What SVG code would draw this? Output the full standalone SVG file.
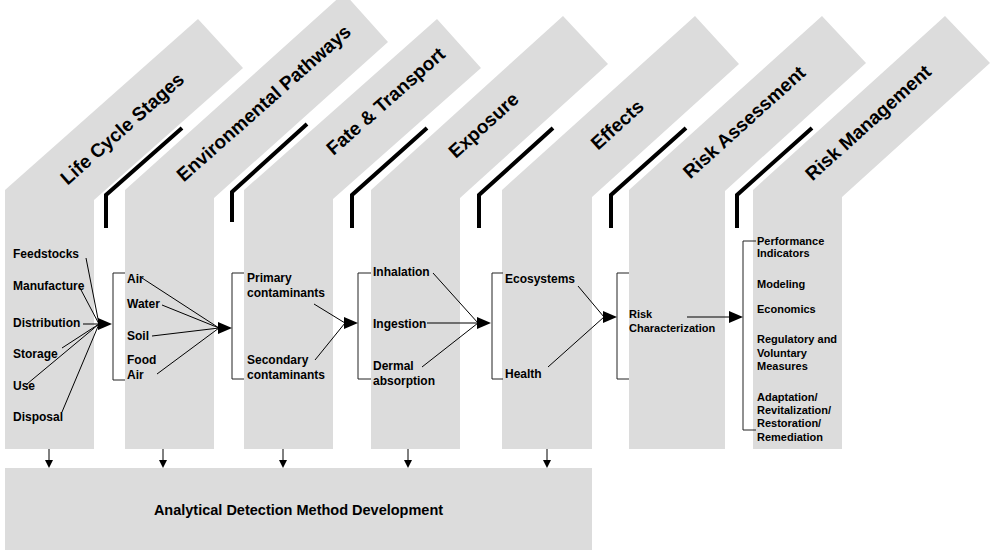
<svg xmlns="http://www.w3.org/2000/svg" xmlns:xlink="http://www.w3.org/1999/xlink" width="997" height="550" viewBox="0 0 997 550">
<style>
.band{fill:#dcdcdc;stroke:none}
.title{font-family:"Liberation Sans",Arial,sans-serif;font-weight:bold;font-size:19px;fill:#000;text-anchor:middle}
.item{font-family:"Liberation Sans",Arial,sans-serif;font-weight:bold;font-size:12px;fill:#000}
.small{font-size:11px}
.thick{fill:none;stroke:#000;stroke-width:4}
.thin{fill:none;stroke:#000;stroke-width:1}
.br{fill:none;stroke:#222;stroke-width:1}
.head{fill:#000}
</style>
<defs>
<path id="ah" d="M-14,-6 L0,0 L-14,6 Z"/>
<path id="sh" d="M-4,-8 L4,-8 L0,0 Z"/>
</defs>
<rect width="997" height="550" fill="#fff"/>
<g id="life-cycle-stages">
<polygon class="band" points="5,449 5,190 198,19 243,68 94,200 94,449"/>
<text class="title" transform="translate(126.5,133.5) rotate(-41.5)">Life Cycle Stages</text>
<text class="item" x="13" y="258">Feedstocks</text>
<text class="item" x="13" y="290">Manufacture</text>
<text class="item" x="13" y="327">Distribution</text>
<text class="item" x="13" y="358">Storage</text>
<text class="item" x="13" y="390">Use</text>
<text class="item" x="13" y="421">Disposal</text>
</g>
<g id="environmental-pathways">
<polygon class="band" points="125,449 125,190 344,-7 388,42 214,198 214,449"/>
<text class="title" transform="translate(268,108) rotate(-41.5)">Environmental Pathways</text>
<text class="item" x="127" y="283">Air</text>
<text class="item" x="127" y="308">Water</text>
<text class="item" x="127" y="340">Soil</text>
<text class="item" x="127" y="364">Food</text>
<text class="item" x="127" y="379">Air</text>
</g>
<g id="fate-transport">
<polygon class="band" points="244,449 244,190 437,19 481,68 333,199 333,449"/>
<text class="title" transform="translate(390,106) rotate(-41.5)">Fate &amp; Transport</text>
<text class="item" x="247" y="282">Primary</text>
<text class="item" x="247" y="297">contaminants</text>
<text class="item" x="247" y="364">Secondary</text>
<text class="item" x="247" y="379">contaminants</text>
</g>
<g id="exposure">
<polygon class="band" points="371,449 371,190 563,16 608,64 460,198 460,449"/>
<text class="title" transform="translate(488,130) rotate(-42)">Exposure</text>
<text class="item" x="373" y="276">Inhalation</text>
<text class="item" x="373" y="328">Ingestion</text>
<text class="item" x="373" y="370">Dermal</text>
<text class="item" x="373" y="385">absorption</text>
</g>
<g id="effects">
<polygon class="band" points="502,449 502,190 695,16 739,64 592,197 592,449"/>
<text class="title" transform="translate(621.5,129.5) rotate(-42)">Effects</text>
<text class="item" x="505" y="283">Ecosystems</text>
<text class="item" x="505" y="378">Health</text>
</g>
<g id="risk-assessment">
<polygon class="band" points="629,449 629,190 822,16 866,63 725,191 725,449"/>
<text class="title" transform="translate(748.5,127) rotate(-42)">Risk Assessment</text>
<text class="item small" x="629" y="318">Risk</text>
<text class="item small" x="629" y="332">Characterization</text>
</g>
<g id="risk-management">
<polygon class="band" points="753,449 753,190 945,16 990,63 842,197 842,449"/>
<text class="title" transform="translate(872.5,127.5) rotate(-42)">Risk Management</text>
<text class="item small" x="757" y="245">Performance</text>
<text class="item small" x="757" y="257">Indicators</text>
<text class="item small" x="757" y="288">Modeling</text>
<text class="item small" x="757" y="313">Economics</text>
<text class="item small" x="757" y="343">Regulatory and</text>
<text class="item small" x="757" y="357">Voluntary</text>
<text class="item small" x="757" y="370">Measures</text>
<text class="item small" x="757" y="401">Adaptation/</text>
<text class="item small" x="757" y="414">Revitalization/</text>
<text class="item small" x="757" y="427">Restoration/</text>
<text class="item small" x="757" y="441">Remediation</text>
</g>
<g id="analytical-detection">
<rect class="band" x="5" y="468" width="587" height="82"/>
<text class="title" style="font-size:14.5px" x="298.5" y="515">Analytical Detection Method Development</text>
</g>
<g id="connectors">
<polyline class="thick" points="106,228 106,195 182,128"/>
<polyline class="thick" points="232,222 232,192 307,124"/>
<polyline class="thick" points="352,228 352,195 427,128"/>
<polyline class="thick" points="479,228 479,195 553,128"/>
<polyline class="thick" points="611,228 611,195 686,128"/>
<polyline class="thick" points="737,228 737,195 812,128"/>
<path class="br" d="M125,273 H113 V380 H125"/>
<path class="br" d="M244,273 H232 V379 H244"/>
<path class="br" d="M371,273 H358 V379 H371"/>
<path class="br" d="M503,273 H492 V379 H503"/>
<path class="br" d="M629,273 H617 V379 H629"/>
<path class="br" d="M756,241 H743 V430 H756"/>
<path class="thin" d="M86,258 L99,324 M80,288 L99,324 M83,324 L99,324 M62,348 L99,324 M27,384 L99,324 M62,412 L99,324"/>
<use href="#ah" x="112" y="324" class="head"/>
<path class="thin" d="M142,278 L219,328 M162,305 L219,328 M152,336 L219,328 M157,374 L219,328"/>
<use href="#ah" x="232" y="328" class="head"/>
<path class="thin" d="M314,304 L345,323 M315,360 L345,323"/>
<use href="#ah" x="358" y="323" class="head"/>
<path class="thin" d="M433,273 L478,323 M427,323 L478,323 M422,367 L478,323"/>
<use href="#ah" x="491" y="323" class="head"/>
<path class="thin" d="M578,286 L604,317 M548,367 L604,317"/>
<use href="#ah" x="617" y="317" class="head"/>
<path class="thin" d="M687,317 L730,317"/>
<use href="#ah" x="743" y="317" class="head"/>
<path class="thin" d="M49,449 V461 M163,449 V461 M283,449 V461 M408,449 V461 M547,449 V461"/>
<use href="#sh" x="49" y="468" class="head"/>
<use href="#sh" x="163" y="468" class="head"/>
<use href="#sh" x="283" y="468" class="head"/>
<use href="#sh" x="408" y="468" class="head"/>
<use href="#sh" x="547" y="468" class="head"/>
</g>
</svg>
